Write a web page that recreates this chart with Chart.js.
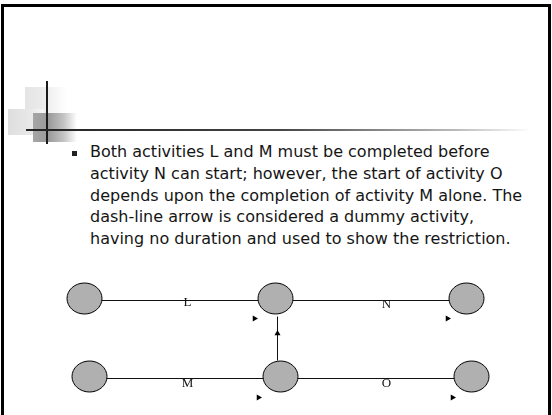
<!DOCTYPE html>
<html>
<head>
<meta charset="utf-8">
<script src="https://cdn.jsdelivr.net/npm/chart.js@4"></script>
<style>
  html, body { margin: 0; padding: 0; background: #fff; }
  #slide { position: relative; width: 552px; height: 415px; overflow: hidden; }
  .abs { position: absolute; }
  #frame { left: 1px; top: 4px; width: 544px; height: 409px; border: 3px solid #000; border-bottom: 2px solid #cfcfcf; }
  #sqA { left: 25px; top: 87px; width: 42px; height: 26px; background: linear-gradient(to right, #e4e4e4 0%, #ececec 45%, #fff 100%); }
  #sqB { left: 8px; top: 109px; width: 36px; height: 26px; background: linear-gradient(to right, #dedede 0%, #e8e8e8 60%, #f6f6f6 100%); }
  #sqC { left: 33px; top: 113px; width: 44px; height: 29px; background: linear-gradient(to right, #a6a6a6 0%, #9a9a9a 35%, #c4c4c4 70%, #fff 100%); }
  #vline { left: 46px; top: 81px; width: 2px; height: 63px; background: #1a1a1a; }
  #hline { left: 26px; top: 129px; width: 506px; height: 2px; background: linear-gradient(to right, #222 0%, #444 50%, #bbb 85%, #fff 100%); }
  #bullet { left: 72px; top: 151px; width: 5px; height: 5px; background: #222; }
  #text { left: 90px; top: 141px; font-family: "DejaVu Sans", sans-serif; font-size: 16px; line-height: 21.8px; color: #151515; white-space: nowrap; }
  #diagram { left: 40px; top: 270px; width: 480px; height: 140px; }
</style>
</head>
<body>
<div id="slide">
  <div id="frame" class="abs"></div>
  <div id="sqA" class="abs"></div>
  <div id="sqB" class="abs"></div>
  <div id="sqC" class="abs"></div>
  <div id="vline" class="abs"></div>
  <div id="hline" class="abs"></div>
  <div id="bullet" class="abs"></div>
  <div id="text" class="abs">Both activities L and M must be completed before<br>activity N can start; however, the start of activity O<br>depends upon the completion of activity M alone. The<br>dash-line arrow is considered a dummy activity,<br>having no duration and used to show the restriction.</div>
  <div id="diagram" class="abs"><canvas id="net"></canvas></div>
</div>
<script>
// === Data (diagram units) ===
const nodeX = [44, 235, 426, 49, 240, 431];
const nodeY = [28, 28, 28, 106, 106, 106];

const activities = ["L", "N", "M", "O"];
const actFromX = [44, 235, 49, 240];
const actToX = [235, 426, 240, 431];
const actY = [30, 30, 108, 108];
const labelX = [147, 346, 147, 346];
const labelY = [32, 34, 113, 113];
const arrowX = [214, 407, 218, 412];
const arrowY = [48, 48, 127, 127];

// dummy activity M-end -> N-start
const dummyX = 237;
const dummyFromY = 90;
const dummyToY = 46;
const dummyArrowY = 63;

// === Node marker (ellipse) ===
// odd size so it lands on whole pixels at the half-pixel offset used below
function ellipseImage(rx, ry) {
  const c = document.createElement("canvas");
  c.width = rx * 2 + 1;
  c.height = ry * 2 + 1;
  const g = c.getContext("2d");
  g.beginPath();
  g.ellipse(c.width / 2, c.height / 2, rx - 0.5, ry - 0.5, 0, 0, Math.PI * 2);
  g.fillStyle = "#b0b0b0";
  g.fill();
  g.lineWidth = 1;
  g.strokeStyle = "#000";
  g.stroke();
  return c;
}
const nodeImg = ellipseImage(18, 16);

// === Datasets ===
const lineSets = activities.map((a, i) => ({
  label: a,
  data: [
    { x: actFromX[i], y: actY[i] },
    { x: actToX[i], y: actY[i] },
  ],
  showLine: true,
  borderColor: "#111",
  borderWidth: 1,
  pointRadius: 0,
  order: 3,
  clip: false,
}));

const dummySet = {
  label: "dummy",
  data: [
    { x: dummyX, y: dummyFromY },
    { x: dummyX, y: dummyToY },
  ],
  showLine: true,
  borderColor: "#111",
  borderWidth: 1,
  pointRadius: 0,
  order: 3,
  clip: false,
};

const arrowSet = {
  label: "arrows",
  data: arrowX.map((x, i) => ({ x, y: arrowY[i] })),
  pointStyle: "triangle",
  rotation: 90,
  pointRadius: 3.5,
  backgroundColor: "#000",
  borderColor: "#000",
  borderWidth: 0,
  order: 1,
  clip: false,
};

const upArrowSet = {
  label: "dummy arrow",
  data: [{ x: dummyX, y: dummyArrowY }],
  pointStyle: "triangle",
  rotation: 0,
  pointRadius: 3.5,
  backgroundColor: "#000",
  borderColor: "#000",
  borderWidth: 0,
  order: 1,
  clip: false,
};

const nodeSet = {
  label: "nodes",
  data: nodeX.map((x, i) => ({ x, y: nodeY[i] })),
  pointStyle: nodeImg,
  pointRadius: 18,
  order: 2,
  clip: false,
};

// === Activity letters ===
const letterPlugin = {
  id: "letters",
  afterDatasetsDraw(chart) {
    const { ctx, scales } = chart;
    ctx.save();
    ctx.font = '13px "Liberation Serif", serif';
    ctx.fillStyle = "#111";
    ctx.textAlign = "center";
    ctx.textBaseline = "middle";
    activities.forEach((a, i) => {
      ctx.fillText(a, scales.x.getPixelForValue(labelX[i]), scales.y.getPixelForValue(labelY[i]));
    });
    ctx.restore();
  },
};

// half-pixel offset on the ranges keeps the 1px lines crisp
new Chart(document.getElementById("net"), {
  type: "scatter",
  data: { datasets: [...lineSets, dummySet, nodeSet, arrowSet, upArrowSet] },
  options: {
    responsive: true,
    maintainAspectRatio: false,
    animation: false,
    events: [],
    layout: { padding: 0, autoPadding: false },
    plugins: { legend: { display: false }, tooltip: { enabled: false } },
    scales: {
      x: { type: "linear", min: -0.5, max: 479.5, display: false },
      y: { type: "linear", min: -0.5, max: 139.5, reverse: true, display: false },
    },
  },
  plugins: [letterPlugin],
});
</script>
</body>
</html>
